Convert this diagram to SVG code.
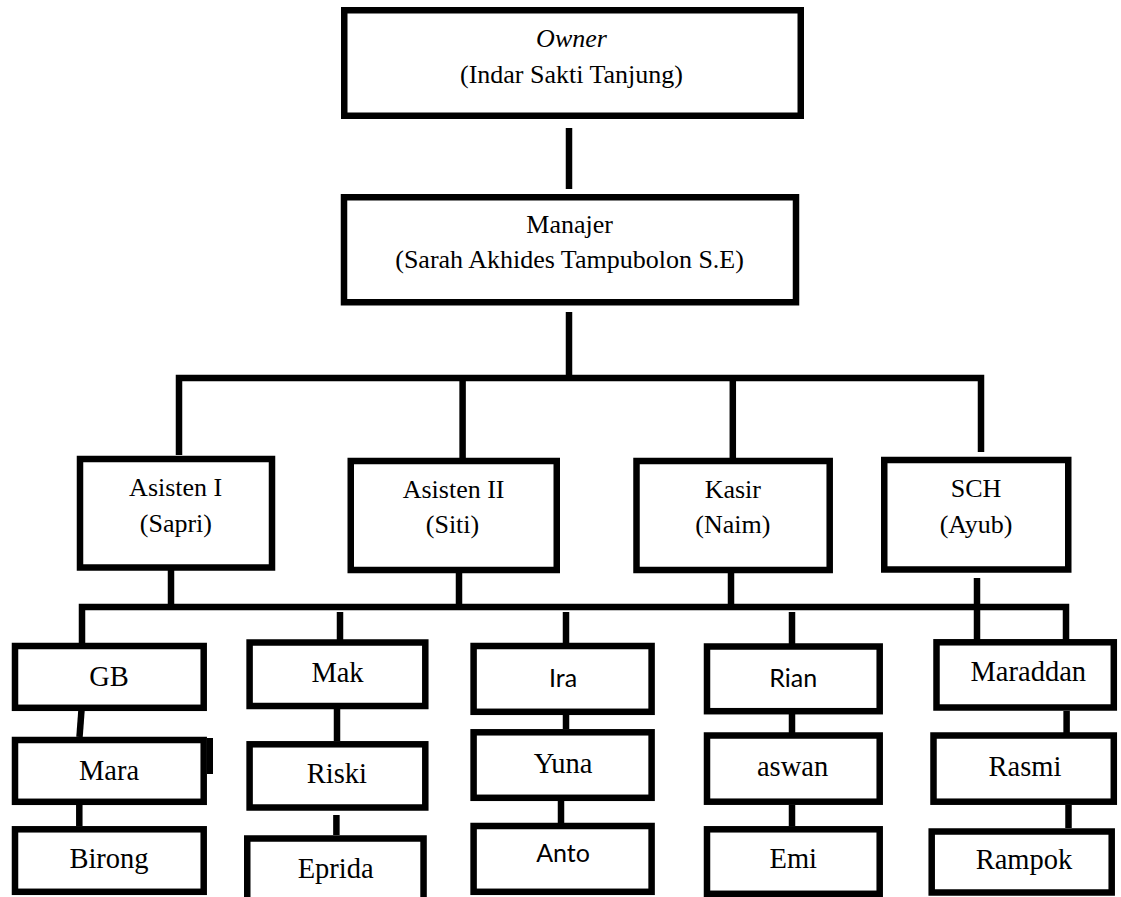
<svg xmlns="http://www.w3.org/2000/svg" width="1121" height="897" viewBox="0 0 1121 897">
<style>
.box{fill:#fff;stroke:#000;stroke-width:6.5}
.ln{fill:none;stroke:#000;stroke-width:6.5;stroke-linejoin:miter;stroke-linecap:butt}
.t{font-family:"Liberation Serif","Times New Roman",serif;font-size:26px;fill:#000;text-anchor:middle}
.s{font-family:"Liberation Serif","Times New Roman",serif;font-size:28.5px;fill:#000;text-anchor:middle}
.c{font-family:Lato,"Liberation Sans",sans-serif;font-size:25px;fill:#000;text-anchor:middle}
</style>
<rect width="1121" height="897" fill="#fff"/>
<g id="connectors">
<path class="ln" d="M569 128V189"/>
<path class="ln" d="M569 312V375"/>
<path class="ln" d="M179 455V378H981V452"/>
<path class="ln" d="M462.6 381V458"/>
<path class="ln" d="M732.8 381V458"/>
<path class="ln" d="M171 570V605"/>
<path class="ln" d="M459 572V605"/>
<path class="ln" d="M731 572V605"/>
<path class="ln" d="M977 578V647"/>
<path class="ln" d="M82 643V607H1066V640"/>
<path class="ln" d="M340 612V640"/>
<path class="ln" d="M566 612V644"/>
<path class="ln" d="M792 612V644"/>
<path class="ln" d="M81.5 710L79.5 737"/>
<path class="ln" d="M79.3 798V826"/>
<path class="ln" d="M337 709V741"/>
<path class="ln" d="M336.4 815V835"/>
<path class="ln" d="M566 707V729"/>
<path class="ln" d="M561 801V823"/>
<path class="ln" d="M792 714V733"/>
<path class="ln" d="M792 805V826"/>
<path class="ln" d="M1066.6 711V733"/>
<path class="ln" d="M1068.5 805V828"/>
</g>
<g id="owner"><rect class="box" x="344.25" y="10.25" width="456.5" height="105.5"/><text class="t" x="571.5" y="46.7" font-style="italic">Owner</text><text class="t" x="571.5" y="83.3">(Indar Sakti Tanjung)</text></g>
<g id="manajer"><rect class="box" x="344" y="197.25" width="452" height="105"/><text class="t" x="569.6" y="233.3">Manajer</text><text class="t" x="569.6" y="268.3">(Sarah Akhides Tampubolon S.E)</text></g>
<g id="asisten1"><rect class="box" x="80" y="459" width="192" height="108.5"/><text class="t" x="175.7" y="496">Asisten I</text><text class="t" x="175.9" y="531.7">(Sapri)</text></g>
<g id="asisten2"><rect class="box" x="350.75" y="461" width="206" height="109"/><text class="t" x="453.6" y="497.7">Asisten II</text><text class="t" x="452.5" y="533.3">(Siti)</text></g>
<g id="kasir"><rect class="box" x="636.5" y="461" width="193.2" height="109"/><text class="t" x="732.8" y="497.7">Kasir</text><text class="t" x="732.8" y="533.3">(Naim)</text></g>
<g id="sch"><rect class="box" x="884.25" y="460" width="184" height="109.5"/><text class="t" x="976" y="496.7">SCH</text><text class="t" x="976" y="533.3">(Ayub)</text></g>
<g id="gb"><rect class="box" x="15" y="646" width="188.7" height="61.8"/><text class="s" x="109" y="686">GB</text></g>
<g id="mara"><rect class="box" x="15" y="740" width="188.7" height="61.8"/><rect x="207" y="738" width="6" height="36" fill="#000"/><text class="s" x="109" y="780">Mara</text></g>
<g id="birong"><rect class="box" x="15" y="829.3" width="188.7" height="62.5"/><text class="s" x="109" y="868.3">Birong</text></g>
<g id="mak"><rect class="box" x="249.6" y="642.5" width="175.7" height="63.5"/><text class="s" x="337.5" y="681.7">Mak</text></g>
<g id="riski"><rect class="box" x="249.6" y="744.3" width="175.7" height="63.2"/><text class="s" x="336.8" y="783.3">Riski</text></g>
<g id="eprida"><rect class="box" x="247.25" y="838.5" width="176.3" height="80"/><text class="s" x="335.7" y="877.7">Eprida</text></g>
<g id="ira"><rect class="box" x="473.6" y="646" width="178" height="65.8"/><text class="c" x="563" y="687">Ira</text></g>
<g id="yuna"><rect class="box" x="473.6" y="732.3" width="178" height="65.5"/><text class="s" x="563" y="773">Yuna</text></g>
<g id="anto"><rect class="box" x="473.6" y="826" width="178" height="65.8"/><text class="c" x="563" y="861.7">Anto</text></g>
<g id="rian"><rect class="box" x="707" y="646.5" width="172.7" height="64.7"/><text class="c" x="793.3" y="687.3">Rian</text></g>
<g id="aswan"><rect class="box" x="707" y="735.5" width="172.7" height="66.2"/><text class="s" x="792.6" y="776">aswan</text></g>
<g id="emi"><rect class="box" x="707" y="829.3" width="172.7" height="64.5"/><text class="s" x="793.3" y="868.3">Emi</text></g>
<g id="maraddan"><rect class="box" x="936.5" y="642.3" width="177.3" height="65.2"/><text class="s" x="1028.3" y="680.7">Maraddan</text></g>
<g id="rasmi"><rect class="box" x="933.5" y="735.5" width="180.3" height="66.2"/><text class="s" x="1025" y="776">Rasmi</text></g>
<g id="rampok"><rect class="box" x="931.7" y="831.5" width="180" height="61"/><text class="s" x="1024" y="869.3">Rampok</text></g>
</svg>
